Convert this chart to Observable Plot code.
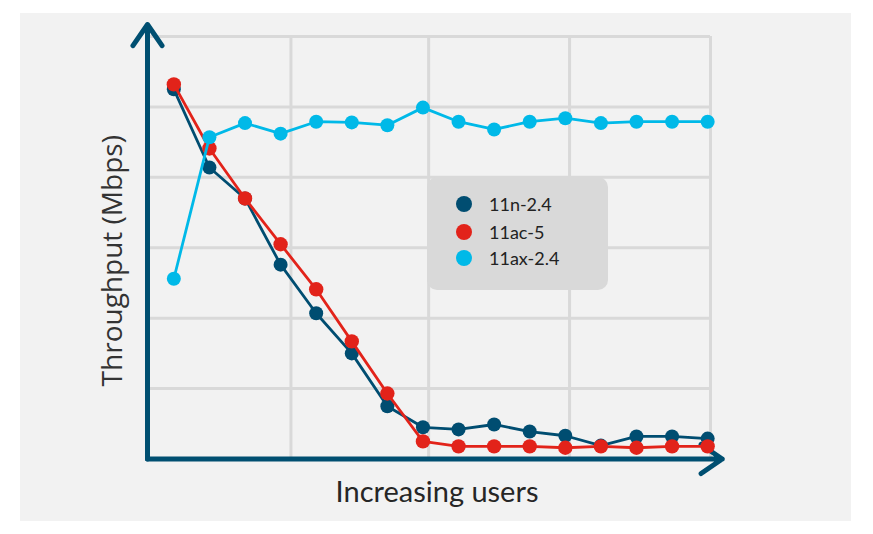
<!DOCTYPE html>
<html>
<head>
<meta charset="utf-8">
<script src="https://cdn.jsdelivr.net/npm/d3@7"></script>
<script src="https://cdn.jsdelivr.net/npm/@observablehq/plot@0.6"></script>
<style>
  html, body { margin: 0; padding: 0; background: #ffffff; }
  #wrap { position: relative; width: 873px; height: 534px; overflow: hidden; }
  #panel { position: absolute; left: 20px; top: 13px; width: 831px; height: 508px; background: #f2f2f2; }
  #chart { position: absolute; left: 0; top: 0; }
  #legend { position: absolute; left: 427px; top: 177px; width: 181px; height: 113px;
            background: #d9d9d9; border-radius: 10px; font-family: Lato, "Open Sans", sans-serif;
            font-size: 18px; color: #222; }
  .item { position: absolute; left: 0; height: 20px; line-height: 20px; }
  .sw { position: absolute; left: 29px; top: 2px; width: 16px; height: 16px; border-radius: 50%; }
  .lab { position: absolute; left: 62px; top: 0; white-space: nowrap; }
</style>
</head>
<body>
<div id="wrap">
  <div id="panel"></div>
  <div id="chart"></div>
  <div id="legend"></div>
</div>
<script>
// ---- data (y in arbitrary throughput units, 100 per gridline) ----
const users = [1, 2, 3, 4, 5, 6, 7, 8, 9, 10, 11, 12, 13, 14, 15, 16];
const n24  = [525, 414, 370, 276, 207, 150, 75, 45, 42, 49, 39, 33, 19, 32, 32, 29];
const ac5  = [532, 441, 370, 305, 241, 167, 93, 25, 18, 18, 18, 16, 18, 16, 18, 18];
const ax24 = [256, 457, 477, 462, 479, 478, 474, 499, 479, 468, 479, 484, 477, 479, 479, 479];

const seriesNames  = ["11n-2.4", "11ac-5", "11ax-2.4"];
const seriesColors = ["#004d71", "#e2231a", "#00b9e8"];

const xDomain = [0.26, 16.08];
const yDomain = [0, 600];
const xGrid = [4.29, 8.16, 12.12, 16.08];
const yGrid = [100, 200, 300, 400, 500, 600];
const xArrowTip = 16.41;
const yArrowTip = 617;

const axisColor = "#004f71";

const rows = (vals, name) => users.map((u, i) => ({u, v: vals[i], s: name}));
const dataN  = rows(n24, seriesNames[0]);
const dataAC = rows(ac5, seriesNames[1]);
const dataAX = rows(ax24, seriesNames[2]);

const chart = Plot.plot({
  width: 873,
  height: 534,
  marginLeft: 147,
  marginRight: 163,
  marginTop: 36,
  marginBottom: 75.5,
  style: {background: "transparent", overflow: "visible"},
  x: {domain: xDomain, axis: null},
  y: {domain: yDomain, axis: null},
  marks: [
    Plot.ruleY(yGrid, {stroke: "#d9d9d9", strokeWidth: 3}),
    Plot.ruleX(xGrid, {stroke: "#d9d9d9", strokeWidth: 3}),
    // axes with arrowheads
    Plot.arrow([0], {x1: xDomain[0], y1: 0, x2: xDomain[0], y2: yArrowTip,
      stroke: axisColor, strokeWidth: 5, headLength: 7.7, headAngle: 69,
      strokeLinecap: "round", strokeLinejoin: "round"}),
    Plot.arrow([0], {x1: xDomain[0], y1: 0, x2: xArrowTip, y2: 0,
      stroke: axisColor, strokeWidth: 5, headLength: 7.7, headAngle: 69,
      strokeLinecap: "round", strokeLinejoin: "round"}),
    // series
    Plot.line(dataN,  {x: "u", y: "v", stroke: seriesColors[0], strokeWidth: 2.8}),
    Plot.dot(dataN,   {x: "u", y: "v", fill: seriesColors[0], r: 7}),
    Plot.line(dataAC, {x: "u", y: "v", stroke: seriesColors[1], strokeWidth: 2.8}),
    Plot.dot(dataAC,  {x: "u", y: "v", fill: seriesColors[1], r: 7.2}),
    Plot.line(dataAX, {x: "u", y: "v", stroke: seriesColors[2], strokeWidth: 2.8}),
    Plot.dot(dataAX,  {x: "u", y: "v", fill: seriesColors[2], r: 7}),
    // axis titles
    Plot.text(["Throughput (Mbps)"], {frameAnchor: "left", textAnchor: "middle", lineAnchor: "middle",
      dx: -34, dy: 13, rotate: -90,
      fontSize: 28, fontFamily: "Open Sans", fill: "#333333", text: d => d}),
    Plot.text(["Increasing users"], {frameAnchor: "bottom", textAnchor: "middle", lineAnchor: "middle",
      dx: 8, dy: 34,
      fontSize: 29, fontFamily: "Lato", fill: "#262626", text: d => d})
  ]
});
document.getElementById("chart").appendChild(chart);

// legend
const legend = document.getElementById("legend");
const tops = [17, 45, 71];
seriesNames.forEach((name, i) => {
  const item = document.createElement("div");
  item.className = "item";
  item.style.top = tops[i] + "px";
  item.innerHTML = `<span class="sw" style="background:${seriesColors[i]}"></span><span class="lab">${name}</span>`;
  legend.appendChild(item);
});
</script>
</body>
</html>
